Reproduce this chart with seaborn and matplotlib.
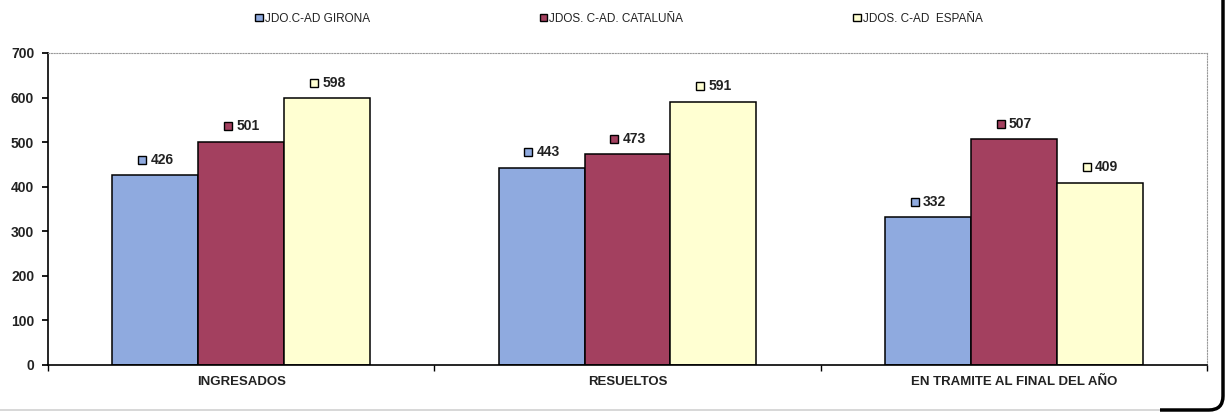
import numpy as np
import pandas as pd
import matplotlib.pyplot as plt
import matplotlib.patches as mpatches
from matplotlib.patches import FancyBboxPatch, Rectangle
from matplotlib.transforms import offset_copy, IdentityTransform
import seaborn as sns

# ── Data ──────────────────────────────────────────────────────────────────────
categorias = ["INGRESADOS", "RESUELTOS", "EN TRAMITE AL FINAL DEL AÑO"]
series = ["JDO.C-AD GIRONA", "JDOS. C-AD. CATALUÑA", "JDOS. C-AD  ESPAÑA"]
girona = [426, 443, 332]
cataluna = [501, 473, 507]
espana = [598, 591, 409]

COLORS = ["#8faadf", "#a3405f", "#ffffd2"]

df = pd.DataFrame({
    "categoria": categorias * 3,
    "serie": np.repeat(series, 3),
    "valor": girona + cataluna + espana,
})

sns.set_theme(style="white")
plt.rcParams["font.family"] = ["Liberation Sans", "DejaVu Sans"]

fig = plt.figure(figsize=(12.26, 4.12), dpi=100, facecolor="white")
ax = fig.add_axes([0.0392, 0.1141, 0.9453, 0.7573])

sns.barplot(data=df, x="categoria", y="valor", hue="serie", order=categorias,
            hue_order=series, palette=COLORS, width=0.667, gap=0,
            edgecolor="black", linewidth=1.1, saturation=1, ax=ax, legend=False)

ax.set_ylim(0, 700)
ax.set_xlim(-0.5, 2.5)
ax.set_yticks(range(0, 701, 100))
ax.set_xlabel("")
ax.set_ylabel("")
ax.tick_params(axis="y", labelsize=10, length=4, direction="out", color="black",
               left=True, pad=6)
ax.tick_params(axis="x", which="major", labelsize=9.5, length=0, pad=8)
ax.set_xticks([-0.5, 0.5, 1.5, 2.5], minor=True)
ax.tick_params(axis="x", which="minor", length=4, direction="out", color="black",
               bottom=True)
for lbl in ax.get_xticklabels() + ax.get_yticklabels():
    lbl.set_fontweight("bold")
    lbl.set_color("#222222")

ax.spines["left"].set_color("black")
ax.spines["bottom"].set_color("black")
ax.spines["left"].set_linewidth(1.2)
ax.spines["bottom"].set_linewidth(1.2)
for s in ["top", "right"]:
    ax.spines[s].set_color("#999999")
    ax.spines[s].set_linestyle((0, (1, 1.5)))
    ax.spines[s].set_linewidth(0.8)

# value labels with legend key
bar_colors = [c for c in COLORS for _ in categorias]
for bar, col in zip(ax.patches, bar_colors):
    xc = bar.get_x() + bar.get_width() / 2
    h = bar.get_height()
    mk = offset_copy(ax.transData, fig=fig, x=-9.5, y=11, units="points")
    ax.plot([xc], [h], marker="s", markersize=5.5, markerfacecolor=col,
            markeredgecolor="black", markeredgewidth=1, transform=mk,
            clip_on=False)
    ax.annotate(f"{int(h)}", (xc, h), xytext=(-3.5, 11), textcoords="offset points",
                ha="left", va="center", fontsize=10, fontweight="bold",
                color="#222222")

# legend
handles = [mpatches.Patch(facecolor=c, edgecolor="black", linewidth=1, label=s)
           for c, s in zip(COLORS, series)]
fig.legend(handles=handles, loc="center", bbox_to_anchor=(0.505, 0.955), ncol=3,
           frameon=False, fontsize=8.5, handlelength=0.6, handleheight=0.6,
           handletextpad=0.2, columnspacing=14.4, labelcolor="#222222")

# rounded frame: faint along the bottom, heavy on the right-hand corner
box = dict(boxstyle="round,pad=0,rounding_size=14", transform=IdentityTransform(),
           facecolor="none")
faint = FancyBboxPatch((-30, 2), 1253, 480, edgecolor="#c8c8c8", linewidth=1,
                       clip_on=False, **box)
fig.patches.append(faint)
heavy = FancyBboxPatch((-30, 2), 1253, 480, edgecolor="black", linewidth=2.5, **box)
heavy.set_clip_on(True)
heavy.set_clip_path(Rectangle((1160, -10), 100, 450, transform=IdentityTransform()))
fig.patches.append(heavy)

plt.savefig("out.png", dpi=100)
plt.close()
